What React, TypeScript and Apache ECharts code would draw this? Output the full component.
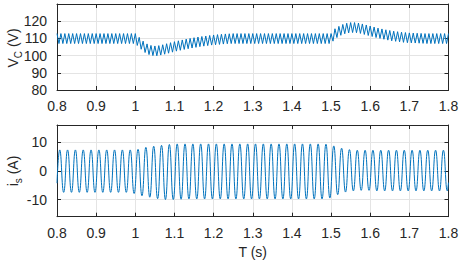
import React, { useEffect, useRef } from "react";
import * as echarts from "echarts";

// ---- data ----
const xTicks = { min: 0.8, max: 1.8, step: 0.1 };
const vcTicks = { min: 80, max: 130, step: 10 };
const isRange = { min: -16, max: 16 };
const isTickValues = [-10, 0, 10];

// capacitor voltage ripple: one peak per 10 ms (peaks at 0.80 + 0.01k), one valley at 0.805 + 0.01k
const vcStart = 0.8;
const vcRippleStep = 0.01;
const vcPeak = [
  112.8, 112.8, 112.8, 112.8, 112.8, 112.8, 112.8, 112.8, 112.8, 112.8,
  112.8, 112.8, 112.8, 112.8, 112.8, 112.8, 112.8, 112.8, 112.8, 112.8,
  112.8, 110.6, 108.4, 106.8, 105.9, 105.6, 105.8, 106.3, 106.9, 107.5,
  108.1, 108.6, 109.1, 109.6, 110.0, 110.4, 110.8, 111.1, 111.4, 111.7,
  112.0, 112.2, 112.4, 112.6, 112.7, 112.8, 112.8, 112.8, 112.8, 112.8,
  112.8, 112.8, 112.8, 112.8, 112.8, 112.8, 112.8, 112.8, 112.8, 112.8,
  112.8, 112.8, 112.8, 112.8, 112.8, 112.8, 112.8, 112.8, 112.8, 112.8,
  112.8, 115.6, 117.0, 118.1, 118.8, 119.2, 119.2, 118.9, 118.4, 117.8,
  117.2, 116.6, 116.0, 115.5, 115.0, 114.6, 114.2, 113.9, 113.6, 113.4,
  113.2, 113.1, 113.0, 112.9, 112.8, 112.8, 112.8, 112.8, 112.8, 112.8,
  112.8,
];
const vcValley = [
  107.0, 107.0, 107.0, 107.0, 107.0, 107.0, 107.0, 107.0, 107.0, 107.0,
  107.0, 107.0, 107.0, 107.0, 107.0, 107.0, 107.0, 107.0, 107.0, 107.0,
  105.9, 103.7, 101.8, 100.6, 100.0, 99.9, 100.3, 100.8, 101.4, 102.0,
  102.6, 103.1, 103.6, 104.0, 104.4, 104.8, 105.2, 105.5, 105.8, 106.1,
  106.3, 106.5, 106.7, 106.9, 107.0, 107.0, 107.0, 107.0, 107.0, 107.0,
  107.0, 107.0, 107.0, 107.0, 107.0, 107.0, 107.0, 107.0, 107.0, 107.0,
  107.0, 107.0, 107.0, 107.0, 107.0, 107.0, 107.0, 107.0, 107.0, 107.0,
  108.4, 110.5, 111.8, 112.7, 113.2, 113.4, 113.3, 112.9, 112.3, 111.7,
  111.1, 110.5, 110.0, 109.5, 109.0, 108.6, 108.3, 108.0, 107.7, 107.5,
  107.4, 107.3, 107.2, 107.1, 107.0, 107.0, 107.0, 107.0, 107.0, 107.0,
];

// source current: 50 Hz, peaks at 0.807 + 0.02k, valleys at 0.817 + 0.02k
const isPeakStart = 0.807;
const isValleyStart = 0.817;
const isPeriod = 0.02;
const isFirst = -4.3; // value at t = 0.8
const isLast = -4.1; // value at t = 1.8
const isPeak = [
  7.3, 7.3, 7.3, 7.3, 7.3, 7.3, 7.3, 7.3, 7.3, 7.3,
  7.5, 8.2, 8.6, 8.9, 9.2, 9.4, 9.4, 9.4, 9.4, 9.4,
  9.4, 9.4, 9.4, 9.4, 9.4, 9.4, 9.4, 9.4, 9.4, 9.4,
  9.4, 9.4, 9.4, 9.4, 9.3, 8.7, 7.9, 7.4, 7.2, 7.2,
  7.2, 7.2, 7.2, 7.2, 7.2, 7.2, 7.2, 7.2, 7.2, 7.2,
];
const isValley = [
  -7.5, -7.5, -7.5, -7.5, -7.5, -7.5, -7.5, -7.5, -7.5, -7.9,
  -8.7, -9.2, -9.7, -10.0, -10.0, -9.9, -9.8, -9.8, -9.8, -9.8,
  -9.8, -9.8, -9.8, -9.8, -9.8, -9.8, -9.8, -9.8, -9.8, -9.8,
  -9.8, -9.8, -9.8, -9.8, -9.5, -8.3, -7.4, -7.0, -6.8, -6.8,
  -7.0, -7.0, -7.0, -7.0, -7.0, -7.0, -7.0, -7.0, -7.0, -7.0,
];

const r4 = (v: number) => Math.round(v * 10000) / 10000;

function buildVc(): number[][] {
  const out: number[][] = [];
  for (let k = 0; k < vcValley.length; k++) {
    out.push([r4(vcStart + vcRippleStep * k), vcPeak[k]]);
    out.push([r4(vcStart + vcRippleStep * (k + 0.5)), vcValley[k]]);
  }
  out.push([r4(vcStart + vcRippleStep * vcValley.length), vcPeak[vcValley.length]]);
  return out;
}

function buildIs(): number[][] {
  const out: number[][] = [[xTicks.min, isFirst]];
  for (let k = 0; k < isPeak.length; k++) {
    out.push([r4(isPeakStart + isPeriod * k), isPeak[k]]);
    out.push([r4(isValleyStart + isPeriod * k), isValley[k]]);
  }
  out.push([xTicks.max, isLast]);
  return out;
}

const FONT = "'Liberation Sans', Arial, Helvetica, sans-serif";
const TXT = "#262626";
const AX = "#262626";
const GRIDC = "#e4e4e4";
const BLUE = "#0072BD";

export default function App() {
  const ref = useRef<HTMLDivElement>(null);
  useEffect(() => {
    if (!ref.current) return;
    const chart = echarts.init(ref.current, undefined, { renderer: "svg" });

    const axisLine = { show: true, onZero: false, lineStyle: { color: AX, width: 1 } };
    const tick = { show: true, inside: true, length: 4, lineStyle: { color: AX } };
    const fmtX = (v: number) => String(Math.round(v * 10) / 10);

    const xBase = (grid: number) => ({
      type: "value" as const,
      gridIndex: grid,
      min: xTicks.min,
      max: xTicks.max,
      interval: xTicks.step,
      position: "bottom" as const,
      axisLine,
      axisTick: tick,
      axisLabel: { color: TXT, fontSize: 14, fontFamily: FONT, margin: 9, formatter: fmtX },
      splitLine: { show: true, lineStyle: { color: GRIDC, width: 1 } },
    });
    const xTop = (grid: number) => ({
      type: "value" as const,
      gridIndex: grid,
      min: xTicks.min,
      max: xTicks.max,
      interval: xTicks.step,
      position: "top" as const,
      axisLine,
      axisTick: tick,
      axisLabel: { show: false },
      splitLine: { show: false },
    });

    const option: any = {
      animation: false,
      backgroundColor: "#ffffff",
      grid: [
        { left: 57, top: 4, width: 391.5, height: 86 },
        { left: 57, top: 125, width: 391.5, height: 91.7 },
      ],
      xAxis: [
        xBase(0),
        xTop(0),
        {
          ...xBase(1),
          name: "T (s)",
          nameLocation: "middle",
          nameGap: 28,
          nameTextStyle: { color: TXT, fontSize: 14, fontFamily: FONT },
        },
        xTop(1),
      ],
      yAxis: [
        {
          type: "value",
          gridIndex: 0,
          min: vcTicks.min,
          max: vcTicks.max,
          interval: vcTicks.step,
          position: "left",
          axisLine,
          axisTick: tick,
          axisLabel: { color: TXT, fontSize: 14, fontFamily: FONT, margin: 10, showMaxLabel: false },
          splitLine: { show: true, lineStyle: { color: GRIDC, width: 1 } },
        },
        {
          type: "value",
          gridIndex: 0,
          min: vcTicks.min,
          max: vcTicks.max,
          interval: vcTicks.step,
          position: "right",
          axisLine,
          axisTick: tick,
          axisLabel: { show: false },
          splitLine: { show: false },
        },
        {
          type: "value",
          gridIndex: 1,
          min: isRange.min,
          max: isRange.max,
          position: "left",
          axisLine,
          axisTick: { ...tick, customValues: isTickValues },
          axisLabel: { color: TXT, fontSize: 14, fontFamily: FONT, margin: 10, customValues: isTickValues },
          splitLine: { show: true, lineStyle: { color: GRIDC, width: 1 } },
        },
        {
          type: "value",
          gridIndex: 1,
          min: isRange.min,
          max: isRange.max,
          position: "right",
          axisLine,
          axisTick: { ...tick, customValues: isTickValues },
          axisLabel: { show: false },
          splitLine: { show: false },
        },
      ],
      series: [
        {
          type: "line",
          xAxisIndex: 0,
          yAxisIndex: 0,
          data: buildVc(),
          showSymbol: false,
          lineStyle: { color: BLUE, width: 1 },
          itemStyle: { color: BLUE },
        },
        {
          type: "line",
          xAxisIndex: 2,
          yAxisIndex: 2,
          data: buildIs(),
          smooth: 0.5,
          showSymbol: false,
          lineStyle: { color: BLUE, width: 1 },
          itemStyle: { color: BLUE },
        },
      ],
      graphic: [
        {
          type: "text",
          x: 13,
          y: 48,
          rotation: Math.PI / 2,
          style: {
            text: "{m|V}{s|C}{m| (V)}",
            align: "center",
            verticalAlign: "middle",
            rich: {
              m: { fontSize: 14, fontFamily: FONT, fill: TXT, lineHeight: 20 },
              s: { fontSize: 10, fontFamily: FONT, fill: TXT, lineHeight: 13, verticalAlign: "bottom" },
            },
          },
        },
        {
          type: "text",
          x: 13,
          y: 171,
          rotation: Math.PI / 2,
          style: {
            text: "{m|i}{s|s}{m| (A)}",
            align: "center",
            verticalAlign: "middle",
            rich: {
              m: { fontSize: 14, fontFamily: FONT, fill: TXT, lineHeight: 20 },
              s: { fontSize: 10, fontFamily: FONT, fill: TXT, lineHeight: 13, verticalAlign: "bottom" },
            },
          },
        },
      ],
    };

    chart.setOption(option);
    return () => chart.dispose();
  }, []);

  return (
    <div
      ref={ref}
      style={{ position: "fixed", left: 0, top: 0, width: 463, height: 269 }}
    />
  );
}
